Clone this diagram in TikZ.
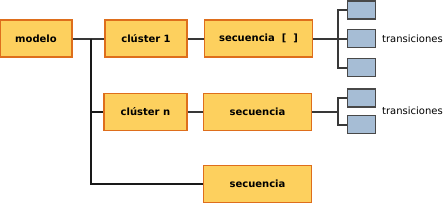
\documentclass[tikz,border=0pt]{standalone}
\usepackage{fontspec}
\setmainfont{DejaVu Sans}
\begin{document}
\begin{tikzpicture}[x=1pt,y=-1pt,
  obox/.style={draw=borderorange, fill=yellowfill, line width=1.2pt, inner sep=0pt, font=\fontsize{10}{11}\selectfont\bfseries},
  bbox/.style={draw=boxgray, fill=bluefill, line width=1.4pt, minimum width=28pt, minimum height=18pt, inner sep=0pt},
  conn/.style={draw=linegray, line width=2pt},
  conn2/.style={draw=black!90, line width=1.3pt}]
\definecolor{yellowfill}{HTML}{FDD05E}
\definecolor{borderorange}{HTML}{DE6E1C}
\definecolor{bluefill}{HTML}{A6BDD5}
\definecolor{boxgray}{HTML}{484848}
\definecolor{linegray}{HTML}{383838}
\useasboundingbox (0,0) rectangle (443,204);
% orange boxes
\node[obox, minimum width=72pt, minimum height=37pt] (modelo) at (36,38.5) {modelo};
\node[obox, minimum width=82pt, minimum height=37pt] (c1) at (146,38.5) {clúster 1};
\node[obox, minimum width=108pt, minimum height=37pt] (s1) at (258.5,38.5) {secuencia~~[~~]};
\node[obox, minimum width=83pt, minimum height=37pt] (cn) at (145.5,112) {clúster n};
\node[obox, minimum width=108pt, minimum height=37pt] (s2) at (257.5,112) {secuencia};
\node[obox, minimum width=108pt, minimum height=37pt] (s3) at (257.5,184) {secuencia};
% blue boxes
\node[bbox] (t1) at (361.7,10) {};
\node[bbox] (t2) at (361.7,38.5) {};
\node[bbox] (t3) at (361.7,67.5) {};
\node[bbox] (t4) at (361.7,98) {};
\node[bbox] (t5) at (361.7,124.7) {};
\node[anchor=west, font=\fontsize{10}{11}\selectfont, inner sep=0pt] (l1) at (382,39) {transiciones};
\node[anchor=west, font=\fontsize{10}{11}\selectfont, inner sep=0pt] (l2) at (382,111) {transiciones};
% connectors
\coordinate (j) at (91,38.5);
\draw[conn] (modelo.east) -- (c1.west);
\draw[conn2] (j) |- (cn.west);
\draw[conn2] (j) |- (s3.west);
\draw[conn] (c1.east) -- (s1.west);
\draw[conn] (cn.east) -- (s2.west);
\coordinate (b1) at (338,38.5);
\coordinate (b2) at (338,112);
\draw[conn] (s1.east) -- (t2.west);
\draw[conn] (t1.west) -| (b1) |- (t3.west);
\draw[conn] (s2.east) -- (b2);
\draw[conn] (t4.west) -| (b2) |- (t5.west);
\end{tikzpicture}
\end{document}
